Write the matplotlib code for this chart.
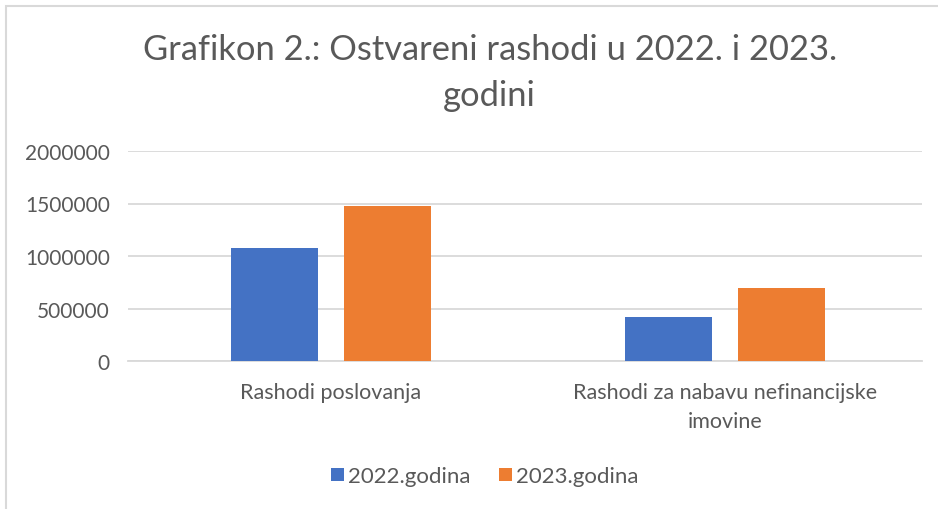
import matplotlib
matplotlib.use("Agg")
import matplotlib.pyplot as plt
import numpy as np
from matplotlib.patches import Rectangle

# data
categories = ["Rashodi poslovanja", "Rashodi za nabavu nefinancijske\nimovine"]
series_names = ["2022.godina", "2023.godina"]
values_2022 = [1075000, 420000]
values_2023 = [1480000, 693000]
yticks = [0, 500000, 1000000, 1500000, 2000000]

blue = "#4472C4"
orange = "#ED7D31"
txt = "#595959"
grid = "#D9D9D9"

plt.rcParams["font.family"] = ["Lato", "DejaVu Sans"]

fig = plt.figure(figsize=(9.38, 5.10), dpi=100)
ax = fig.add_axes([128 / 938, 1 - 362 / 510, 794 / 938, 210 / 510])

x = np.arange(len(categories))
w = 0.221
off = 0.143
ax.bar(x - off, values_2022, w, color=blue, label=series_names[0], zorder=3)
ax.bar(x + off, values_2023, w, color=orange, label=series_names[1], zorder=3)

ax.set_xlim(-0.515, 1.5)
ax.set_ylim(0, 2000000)
ax.set_yticks(yticks)
ax.set_yticklabels([str(v) for v in yticks])
ax.set_xticks(x)
ax.set_xticklabels(categories, linespacing=1.6)
ax.tick_params(length=0, colors=txt)
ax.tick_params(axis="y", pad=13, labelsize=15)
ax.tick_params(axis="x", pad=15, labelsize=15.5)
ax.grid(axis="y", color=grid, linewidth=1.3, zorder=0)
for s in ["top", "right", "left"]:
    ax.spines[s].set_visible(False)
ax.spines["bottom"].set_color(grid)
ax.spines["bottom"].set_linewidth(1.3)

fig.text(0.522, 0.857, "Grafikon 2.: Ostvareni rashodi u 2022. i 2023.\ngodini",
         ha="center", va="center", fontsize=24.8, color=txt, linespacing=1.55)

leg = fig.legend(loc="center", bbox_to_anchor=(0.517, 0.064), ncol=2, frameon=False,
                 fontsize=16, handlelength=0.55, handleheight=0.55, columnspacing=1.3,
                 handletextpad=0.2)
for t in leg.get_texts():
    t.set_color(txt)

# chart frame
fig.patches.append(Rectangle((0.006, -0.05), 1.2, 1.036, transform=fig.transFigure,
                             fill=False, edgecolor=grid, linewidth=1.5))

fig.savefig("out.png", dpi=100)
